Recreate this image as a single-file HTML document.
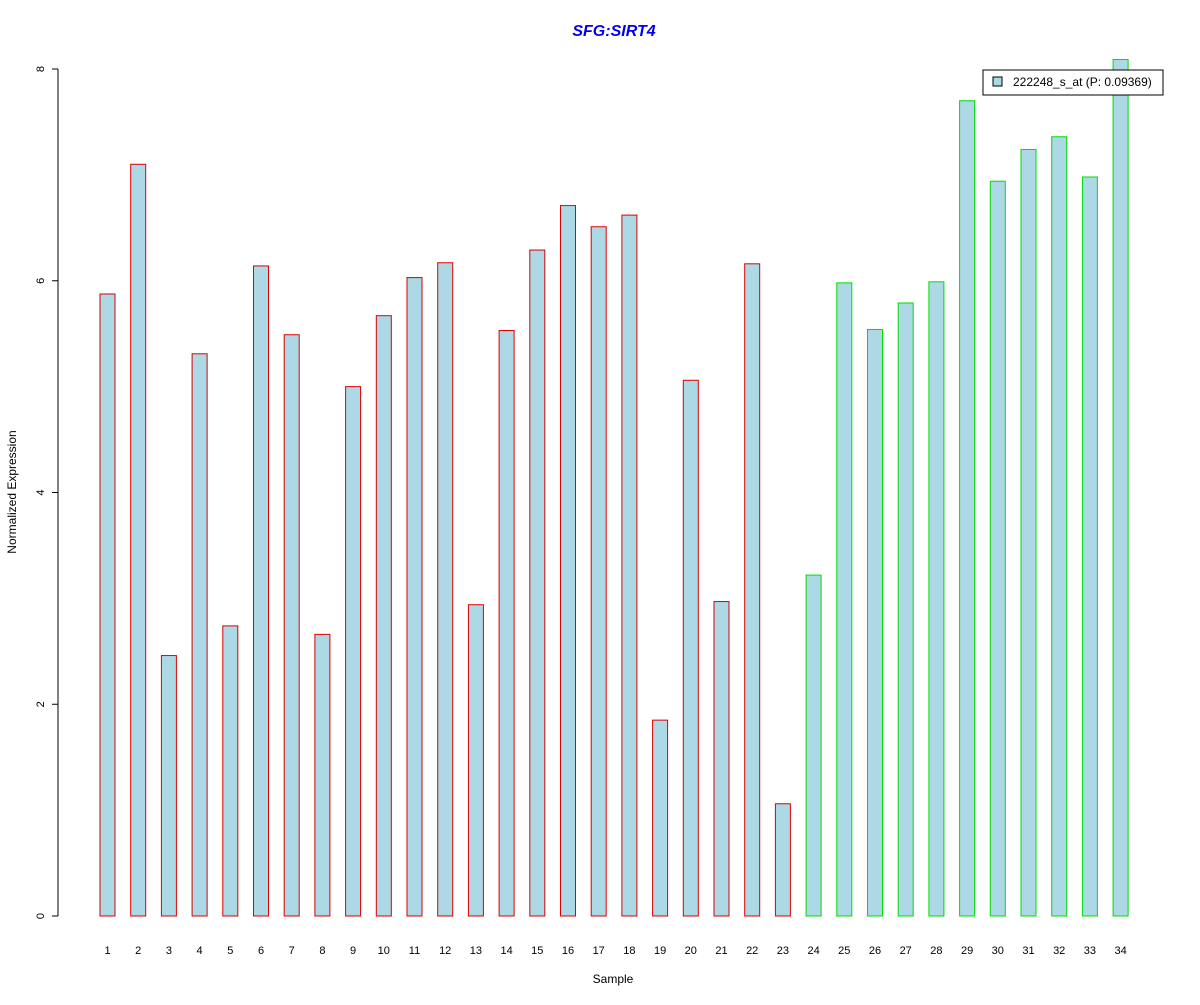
<!DOCTYPE html>
<html><head><meta charset="utf-8"><style>
body{margin:0;background:#fff}
svg text{font-family:"Liberation Sans",Arial,sans-serif}
</style></head><body>
<svg id="c" width="1200" height="1000" xmlns="http://www.w3.org/2000/svg">
<rect width="1200" height="1000" fill="#fff"/>
<text x="614" y="36" text-anchor="middle" font-size="16" font-weight="bold" font-style="italic" fill="#0000ee">SFG:SIRT4</text>
<text x="613" y="983" text-anchor="middle" font-size="12">Sample</text>
<text transform="translate(16,492) rotate(-90)" text-anchor="middle" font-size="12">Normalized Expression</text>
<g id="bars"></g>
<g id="yaxis"></g>
<g id="xlabels"></g>
<g>
<rect x="983" y="70" width="180" height="25" fill="#fff" stroke="#000"/>
<rect x="993" y="77" width="9" height="9" fill="#add8e6" stroke="#000"/>
<text x="1013" y="86" font-size="12">222248_s_at (P: 0.09369)</text>
</g>
</svg>
<script>
const categories=["1","2","3","4","5","6","7","8","9","10","11","12","13","14","15","16","17","18","19","20","21","22","23","24","25","26","27","28","29","30","31","32","33","34"];
const values=[5.875,7.10,2.46,5.31,2.74,6.14,5.49,2.66,5.00,5.67,6.03,6.17,2.94,5.53,6.29,6.71,6.51,6.62,1.85,5.06,2.97,6.16,1.06,3.22,5.98,5.54,5.79,5.99,7.70,6.94,7.24,7.36,6.98,8.09];
const groups=["a","a","a","a","a","a","a","a","a","a","a","a","a","a","a","a","a","a","a","a","a","a","a","b","b","b","b","b","b","b","b","b","b","b"];
const yTicks=[0,2,4,6,8];
const NS="http://www.w3.org/2000/svg";
const y=v=>916-v*105.875;
const x=i=>107.5+i*30.7;
const bars=document.getElementById('bars'),ya=document.getElementById('yaxis'),xl=document.getElementById('xlabels');
function mk(t,a,p){const e=document.createElementNS(NS,t);for(const k in a)e.setAttribute(k,a[k]);p.appendChild(e);return e;}
values.forEach((v,i)=>{
 const r=mk('rect',{x:x(i)-7.5,y:y(v),width:15,height:916-y(v),fill:'#add8e6',stroke:groups[i]==='a'?'#dd0000':'#00dd00'},bars);
 
 
 const t=mk('text',{x:x(i),y:954,'text-anchor':'middle','font-size':'11'},xl);
 t.textContent=categories[i];
 
 
});
mk('line',{x1:58,x2:58,y1:y(0),y2:y(8),stroke:'#000'},ya);
yTicks.forEach(v=>{
 mk('line',{x1:52,x2:58,y1:y(v),y2:y(v),stroke:'#000'},ya);
 const t=mk('text',{transform:`translate(44,${y(v)}) rotate(-90)`,'text-anchor':'middle','font-size':'11'},ya);
 t.textContent=v;
 
 
});
</script>
</body></html>
